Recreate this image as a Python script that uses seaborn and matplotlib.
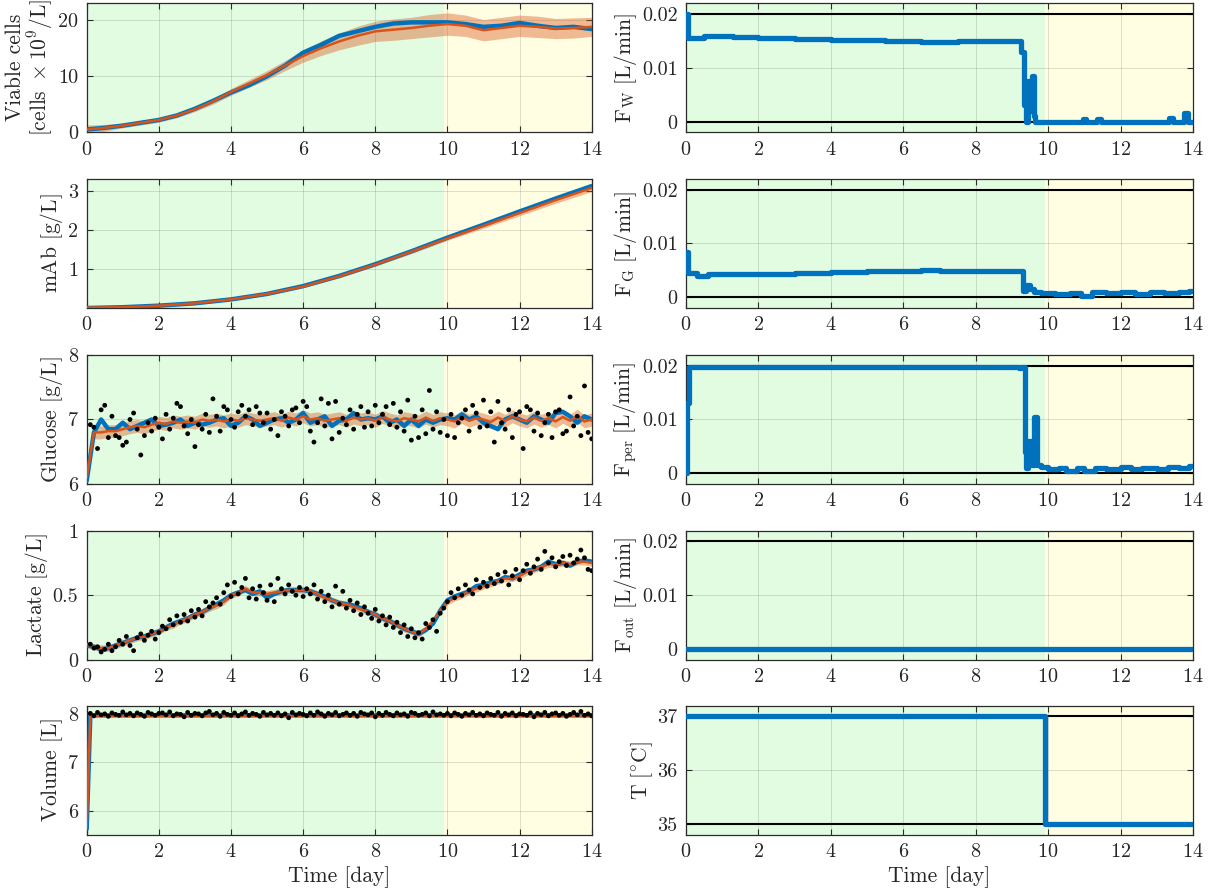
import numpy as np
import seaborn as sns
import matplotlib.pyplot as plt
from matplotlib.ticker import FuncFormatter

# ---- data ----
t_half = np.arange(0, 14.01, 0.5)
t_day = np.arange(0, 14.01, 1.0)
t_line = np.round(np.arange(0, 14.001, 0.2), 1)
t_dots = np.round(np.arange(0.1, 14.001, 0.1), 1)

xv_true = [0.5, 0.8, 1.2, 1.7, 2.2, 3.0, 4.2, 5.6, 7.1, 8.4, 10.0, 11.9, 14.2, 15.6, 17.2,
           18.0, 18.8, 19.4, 19.6, 19.6, 19.6, 19.3, 18.8, 19.0, 19.5, 19.0, 18.6, 18.8, 18.4]
xv_est = [0.5, 0.8, 1.2, 1.7, 2.2, 3.0, 4.1, 5.5, 7.2, 8.7, 10.2, 11.9, 13.6, 15.0, 16.2,
          17.2, 18.0, 18.3, 18.6, 19.0, 19.3, 19.0, 18.2, 18.6, 19.0, 18.8, 18.5, 18.6, 18.8]
xv_band = [0.8, 0.6, 0.4, 0.4, 0.4, 0.4, 0.4, 0.5, 0.6, 0.7, 0.8, 0.9, 1.1, 1.3, 1.5,
           1.7, 1.8, 1.9, 1.9, 2.0, 2.0, 1.9, 1.9, 1.9, 1.9, 1.9, 1.8, 1.8, 1.7]

mab_true = [0.0, 0.02, 0.06, 0.12, 0.22, 0.36, 0.56, 0.82, 1.12, 1.45, 1.80, 2.13, 2.47, 2.80, 3.12]
mab_est = [0.01, 0.02, 0.06, 0.12, 0.22, 0.36, 0.55, 0.81, 1.11, 1.44, 1.78, 2.10, 2.43, 2.76, 3.07]
mab_band = [0.02, 0.02, 0.03, 0.03, 0.03, 0.03, 0.03, 0.04, 0.04, 0.05, 0.05, 0.06, 0.07, 0.08, 0.09]

glc_true = [6.05, 6.80, 7.00, 6.85, 6.85, 6.95, 6.85, 6.90, 6.95, 7.00,
            6.90, 6.92, 6.95, 7.00, 6.90, 6.95, 6.92, 6.95, 7.00, 7.02,
            6.90, 6.95, 7.05, 7.00, 6.90, 6.95, 7.00, 7.02, 6.95, 7.00,
            7.10, 6.95, 7.00, 7.05, 6.90, 6.98, 7.00, 7.10, 7.00, 7.02,
            7.00, 7.05, 6.95, 7.00, 6.90, 7.00, 6.90, 7.00, 6.95, 7.00,
            7.02, 7.00, 7.08, 7.00, 7.05, 6.95, 6.90, 6.85, 7.00, 7.05,
            7.00, 6.95, 7.05, 7.00, 6.95, 7.10, 7.12, 7.05, 6.95, 7.05,
            7.00]
glc_est = [6.10, 6.80, 6.80, 6.82, 6.82, 6.85, 6.88, 6.90, 6.88, 6.92,
           6.95, 6.93, 6.97, 6.95, 6.97, 6.95, 7.00, 6.98, 7.00, 6.97,
           7.00, 6.98, 7.02, 7.00, 6.98, 7.00, 7.02, 6.98, 7.03, 7.00,
           7.05, 7.00, 7.02, 6.98, 7.00, 7.02, 6.98, 7.03, 7.00, 7.02,
           6.98, 7.04, 7.00, 6.97, 7.02, 7.00, 6.97, 7.03, 6.98, 7.02,
           7.00, 6.97, 7.04, 6.98, 7.02, 7.00, 6.96, 7.03, 6.98, 7.05,
           7.00, 6.97, 7.03, 6.98, 7.02, 6.97, 7.04, 6.98, 7.06, 6.97,
           7.00]
glc_band = 0.1
glc_meas = [6.92, 6.88, 6.55, 7.15, 7.22, 6.72, 7.05, 6.75, 6.72, 6.60,
            6.65, 7.00, 7.10, 6.85, 6.45, 6.75, 6.95, 6.82, 7.02, 6.88,
            6.70, 7.08, 6.85, 7.02, 7.25, 7.20, 6.90, 6.78, 7.00, 6.58,
            6.92, 6.85, 7.08, 6.80, 7.32, 7.05, 6.82, 7.20, 7.15, 7.00,
            6.88, 7.12, 7.22, 7.05, 7.15, 6.92, 7.20, 7.10, 6.95, 7.10,
            6.85, 7.00, 6.75, 7.12, 7.05, 6.90, 7.15, 7.18, 6.95, 7.28,
            7.20, 6.82, 6.65, 6.95, 7.32, 6.90, 7.25, 6.70, 7.28, 6.80,
            7.02, 6.92, 7.15, 6.85, 7.08, 7.20, 6.88, 7.12, 6.90, 7.22,
            6.95, 7.08, 7.20, 6.92, 7.25, 6.88, 7.12, 6.82, 7.30, 6.68,
            7.05, 6.72, 7.15, 6.78, 7.45, 6.85, 7.12, 6.80, 7.00, 6.75,
            7.08, 6.72, 6.95, 7.02, 7.15, 6.82, 7.22, 7.10, 6.88, 7.30,
            6.90, 7.12, 6.65, 7.28, 6.95, 6.85, 7.15, 6.72, 7.08, 7.12,
            6.55, 7.20, 7.15, 6.82, 7.10, 6.75, 6.95, 7.08, 6.72, 7.12,
            7.15, 6.78, 6.82, 7.35, 6.90, 7.05, 6.75, 7.52, 6.80, 6.70]

lac_true = [0.11, 0.10, 0.08, 0.09, 0.11, 0.13, 0.15, 0.17, 0.18, 0.20,
            0.22, 0.25, 0.28, 0.30, 0.32, 0.35, 0.37, 0.40, 0.43, 0.46,
            0.50, 0.52, 0.54, 0.51, 0.53, 0.48, 0.51, 0.53, 0.54, 0.54,
            0.54, 0.53, 0.51, 0.49, 0.46, 0.44, 0.43, 0.42, 0.40, 0.37,
            0.35, 0.32, 0.30, 0.27, 0.24, 0.22, 0.20, 0.23, 0.28, 0.38,
            0.46, 0.49, 0.51, 0.53, 0.57, 0.58, 0.60, 0.61, 0.64, 0.63,
            0.66, 0.69, 0.70, 0.72, 0.76, 0.74, 0.75, 0.73, 0.76, 0.77,
            0.76]
lac_est = [0.12, 0.10, 0.09, 0.09, 0.11, 0.13, 0.15, 0.17, 0.18, 0.20,
           0.22, 0.25, 0.27, 0.30, 0.32, 0.35, 0.37, 0.40, 0.42, 0.45,
           0.50, 0.52, 0.55, 0.52, 0.52, 0.51, 0.52, 0.53, 0.54, 0.54,
           0.54, 0.53, 0.51, 0.48, 0.46, 0.44, 0.43, 0.41, 0.39, 0.37,
           0.35, 0.32, 0.30, 0.27, 0.24, 0.22, 0.20, 0.24, 0.30, 0.38,
           0.45, 0.48, 0.50, 0.53, 0.55, 0.57, 0.59, 0.61, 0.63, 0.63,
           0.65, 0.68, 0.70, 0.72, 0.74, 0.74, 0.75, 0.74, 0.76, 0.76,
           0.75]
lac_band = 0.025
lac_meas = [0.12, 0.09, 0.10, 0.06, 0.08, 0.12, 0.07, 0.10, 0.15, 0.12,
            0.18, 0.11, 0.07, 0.17, 0.20, 0.15, 0.19, 0.22, 0.16, 0.21,
            0.26, 0.24, 0.31, 0.27, 0.34, 0.29, 0.35, 0.30, 0.38, 0.33,
            0.39, 0.34, 0.45, 0.41, 0.44, 0.48, 0.43, 0.52, 0.58, 0.49,
            0.60, 0.51, 0.56, 0.63, 0.48, 0.55, 0.47, 0.57, 0.52, 0.46,
            0.58, 0.45, 0.63, 0.55, 0.51, 0.58, 0.53, 0.50, 0.56, 0.49,
            0.55, 0.51, 0.58, 0.47, 0.53, 0.45, 0.50, 0.41, 0.57, 0.43,
            0.53, 0.40, 0.46, 0.38, 0.44, 0.35, 0.41, 0.36, 0.32, 0.39,
            0.30, 0.34, 0.27, 0.33, 0.25, 0.29, 0.21, 0.27, 0.18, 0.24,
            0.17, 0.21, 0.16, 0.28, 0.25, 0.31, 0.22, 0.36, 0.40, 0.45,
            0.52, 0.48, 0.55, 0.50, 0.58, 0.54, 0.51, 0.62, 0.56, 0.60,
            0.57, 0.63, 0.59, 0.66, 0.61, 0.68, 0.58, 0.65, 0.70, 0.62,
            0.69, 0.74, 0.67, 0.72, 0.78, 0.70, 0.84, 0.75, 0.79, 0.72,
            0.76, 0.80, 0.73, 0.81, 0.75, 0.78, 0.85, 0.79, 0.70, 0.69]

vol_t = [0.0, 0.1, 0.2, 14.0]
vol_true = [5.62, 7.97, 7.98, 7.98]
vol_est = [5.65, 7.96, 7.97, 7.97]
vol_meas = [8.02, 7.97, 8.04, 7.99, 8.01, 7.96, 8.03, 8.00, 7.98, 8.05,
            7.99, 8.02, 7.97, 8.03, 8.00, 7.96, 8.04, 8.01, 7.98, 8.02,
            8.03, 7.99, 8.05, 7.97, 8.01, 8.00, 7.95, 8.04, 7.98, 8.02,
            8.01, 7.97, 8.03, 8.06, 7.99, 8.02, 7.96, 8.04, 8.00, 7.98,
            8.03, 7.97, 8.01, 8.05, 7.98, 8.02, 8.00, 7.96, 8.04, 7.99,
            8.02, 7.98, 8.03, 7.97, 8.01, 7.93, 8.04, 7.99, 8.02, 8.00,
            7.97, 8.03, 7.98, 8.05, 8.01, 7.96, 8.02, 7.99, 8.04, 7.97,
            8.00, 8.03, 7.98, 8.02, 7.96, 8.04, 8.01, 7.99, 8.03, 7.95,
            8.02, 7.98, 8.04, 8.00, 7.97, 8.03, 7.99, 8.01, 7.96, 8.04,
            8.02, 7.98, 8.00, 8.03, 7.97, 8.05, 7.99, 8.01, 7.98, 8.02,
            7.97, 8.03, 8.00, 7.96, 8.02, 7.99, 8.04, 7.98, 8.01, 7.97,
            8.03, 8.00, 7.98, 8.04, 7.96, 8.02, 7.99, 8.03, 7.97, 8.01,
            8.00, 7.98, 8.03, 7.95, 8.02, 7.99, 8.04, 7.97, 8.01, 8.03,
            7.98, 8.02, 7.96, 8.00, 8.04, 7.99, 8.06, 7.98, 8.01, 7.97]

fw_t = [0, 0.06, 0.5, 1.3, 2.0, 3.0, 4.0, 5.5, 6.5, 7.5, 8.5, 9.25, 9.32, 9.38, 9.45, 9.5,
        9.55, 9.6, 9.65, 10.95, 11.05, 11.35, 11.45, 13.35, 13.45, 13.75, 13.85, 14.0]
fw_val = [0.0200, 0.0155, 0.0160, 0.0157, 0.0155, 0.0153, 0.0151, 0.0150, 0.0148, 0.0149,
          0.0150, 0.0130, 0.0030, 0.0, 0.0075, 0.0020, 0.0085, 0.0010, 0.0, 0.0005, 0.0,
          0.0005, 0.0, 0.0007, 0.0, 0.0015, 0.0, 0.0]

fg_t = [0, 0.05, 0.3, 0.6, 1.0, 2.0, 3.0, 4.0, 5.0, 6.0, 6.5, 7.0, 8.0, 9.0, 9.3, 9.4, 9.5,
        9.6, 9.8, 10.2, 10.6, 10.9, 11.2, 11.6, 12.0, 12.4, 12.8, 13.2, 13.6, 13.9, 14.0]
fg_val = [0.0085, 0.0045, 0.0040, 0.0043, 0.0044, 0.0044, 0.0046, 0.0047, 0.0048, 0.0049,
          0.0051, 0.0049, 0.0049, 0.0049, 0.0012, 0.0022, 0.0016, 0.0009, 0.0008, 0.0006,
          0.0008, 0.0003, 0.0009, 0.0007, 0.0010, 0.0006, 0.0009, 0.0007, 0.0010, 0.0012, 0.0012]

fper_t = [0, 0.02, 0.08, 9.2, 9.25, 9.3, 9.35, 9.4, 9.45, 9.55, 9.6, 9.7, 9.8, 10.0, 10.3,
          10.5, 10.8, 11.0, 11.3, 11.6, 12.0, 12.3, 12.6, 13.0, 13.3, 13.6, 13.9, 14.0]
fper_val = [0.0, 0.0130, 0.0197, 0.0195, 0.0197, 0.0197, 0.0040, 0.0010, 0.0060, 0.0015,
            0.0105, 0.0015, 0.0012, 0.0008, 0.0010, 0.0005, 0.0009, 0.0004, 0.0010, 0.0008,
            0.0011, 0.0007, 0.0010, 0.0008, 0.0011, 0.0009, 0.0013, 0.0013]

fout_t = [0, 14.0]
fout_val = [0.0, 0.0]

temp_t = [0, 9.9, 14.0]
temp_val = [37.0, 35.0, 35.0]

F_BOUNDS = [0.0, 0.02]
T_BOUNDS = [35.0, 37.0]
SWITCH_DAY = 9.9

# ---- style ----
sns.set_style('ticks')
plt.rcParams['font.family'] = 'serif'
plt.rcParams['font.serif'] = ['cmr10']
plt.rcParams['mathtext.fontset'] = 'cm'
plt.rcParams['axes.formatter.use_mathtext'] = True
plt.rcParams['axes.unicode_minus'] = False

BLUE = '#0072BD'
ORANGE = '#D95319'
GREEN_BG = '#E1FCE1'
YELLOW_BG = '#FFFEE2'
EDGE = '#2B2B2B'

fig = plt.figure(figsize=(12.21, 8.96), dpi=100)
W, H = 1221, 896
row_tops = [3.3, 179, 355, 530.7, 705.7]
row_h = 129
col_left = [86.7, 686]
col_w = [505, 507]


def make_ax(row, col):
    top = row_tops[row]
    return fig.add_axes([col_left[col] / W, 1 - (top + row_h) / H, col_w[col] / W, row_h / H])


def dress(ax, ylim, yticks, ylabel, last):
    ax.axvspan(0, SWITCH_DAY, color=GREEN_BG, zorder=0, lw=0)
    ax.axvspan(SWITCH_DAY, 14, color=YELLOW_BG, zorder=0, lw=0)
    ax.set_xlim(0, 14)
    ax.set_ylim(*ylim)
    ax.set_xticks(range(0, 15, 2))
    ax.set_yticks(yticks)
    ax.yaxis.set_major_formatter(FuncFormatter(lambda v, p: '%g' % v))
    ax.grid(True, color='#262626', alpha=0.15, lw=0.7)
    ax.set_axisbelow(True)
    ax.tick_params(direction='in', length=4, width=0.8, top=True, right=True,
                   labelsize=14.5, colors=EDGE, labelcolor='#262626', pad=6)
    for s in ax.spines.values():
        s.set_color(EDGE)
        s.set_linewidth(0.9)
    ax.set_ylabel(ylabel, fontsize=15.5, color='#262626', labelpad=2)
    ax.set_xlabel('Time [day]' if last else '', fontsize=15.5, color='#262626')


def states(ax, t, true, est, band, meas_t=None, meas=None):
    est = np.asarray(est)
    ax.fill_between(t, est - np.asarray(band), est + np.asarray(band),
                    color=ORANGE, alpha=0.4, lw=0, zorder=2)
    sns.lineplot(x=t, y=true, ax=ax, color=BLUE, lw=3.2, estimator=None, sort=False, zorder=3)
    sns.lineplot(x=t, y=est, ax=ax, color=ORANGE, lw=1.8, estimator=None, sort=False, zorder=4)
    if meas is not None:
        sns.scatterplot(x=meas_t, y=meas, ax=ax, color='black', s=12, edgecolor='none', zorder=5)


def inputs(ax, t, val, bounds):
    for b in bounds:
        ax.axhline(b, color='black', lw=1.5, zorder=2)
    sns.lineplot(x=t, y=val, ax=ax, color=BLUE, lw=3.8, estimator=None, sort=False,
                 drawstyle='steps-post', zorder=3)


# left column: states
ax = make_ax(0, 0)
states(ax, t_half, xv_true, xv_est, xv_band)
dress(ax, (0, 23), [0, 10, 20], 'Viable cells\n' + r'$[\mathrm{cells}\ \times 10^9/\mathrm{L}]$', False)
ax.yaxis.label.set_linespacing(1.05)
ax.yaxis.set_label_coords(-0.062, 0.5)

ax = make_ax(1, 0)
states(ax, t_day, mab_true, mab_est, mab_band)
dress(ax, (0, 3.3), [1, 2, 3], r'mAb $[\mathrm{g/L}]$', False)

ax = make_ax(2, 0)
states(ax, t_line, glc_true, glc_est, glc_band, t_dots, glc_meas)
dress(ax, (6, 8), [6, 7, 8], r'Glucose $[\mathrm{g/L}]$', False)

ax = make_ax(3, 0)
states(ax, t_line, lac_true, lac_est, lac_band, t_dots, lac_meas)
dress(ax, (0, 1), [0, 0.5, 1], r'Lactate $[\mathrm{g/L}]$', False)

ax = make_ax(4, 0)
states(ax, vol_t, vol_true, vol_est, 0.01, t_dots, vol_meas)
dress(ax, (5.5, 8.18), [6, 7, 8], r'Volume $[\mathrm{L}]$', True)

# right column: inputs
ax = make_ax(0, 1)
inputs(ax, fw_t, fw_val, F_BOUNDS)
dress(ax, (-0.002, 0.022), [0, 0.01, 0.02], r'$\mathrm{F_W}\ [\mathrm{L/min}]$', False)

ax = make_ax(1, 1)
inputs(ax, fg_t, fg_val, F_BOUNDS)
dress(ax, (-0.002, 0.022), [0, 0.01, 0.02], r'$\mathrm{F_G}\ [\mathrm{L/min}]$', False)

ax = make_ax(2, 1)
inputs(ax, fper_t, fper_val, F_BOUNDS)
dress(ax, (-0.002, 0.022), [0, 0.01, 0.02], r'$\mathrm{F_{per}}\ [\mathrm{L/min}]$', False)

ax = make_ax(3, 1)
inputs(ax, fout_t, fout_val, F_BOUNDS)
dress(ax, (-0.002, 0.022), [0, 0.01, 0.02], r'$\mathrm{F_{out}}\ [\mathrm{L/min}]$', False)

ax = make_ax(4, 1)
inputs(ax, temp_t, temp_val, T_BOUNDS)
dress(ax, (34.8, 37.2), [35, 36, 37], r'$\mathrm{T}\ [^{\circ}\mathrm{C}]$', True)

fig.savefig('out.png', dpi=100)
